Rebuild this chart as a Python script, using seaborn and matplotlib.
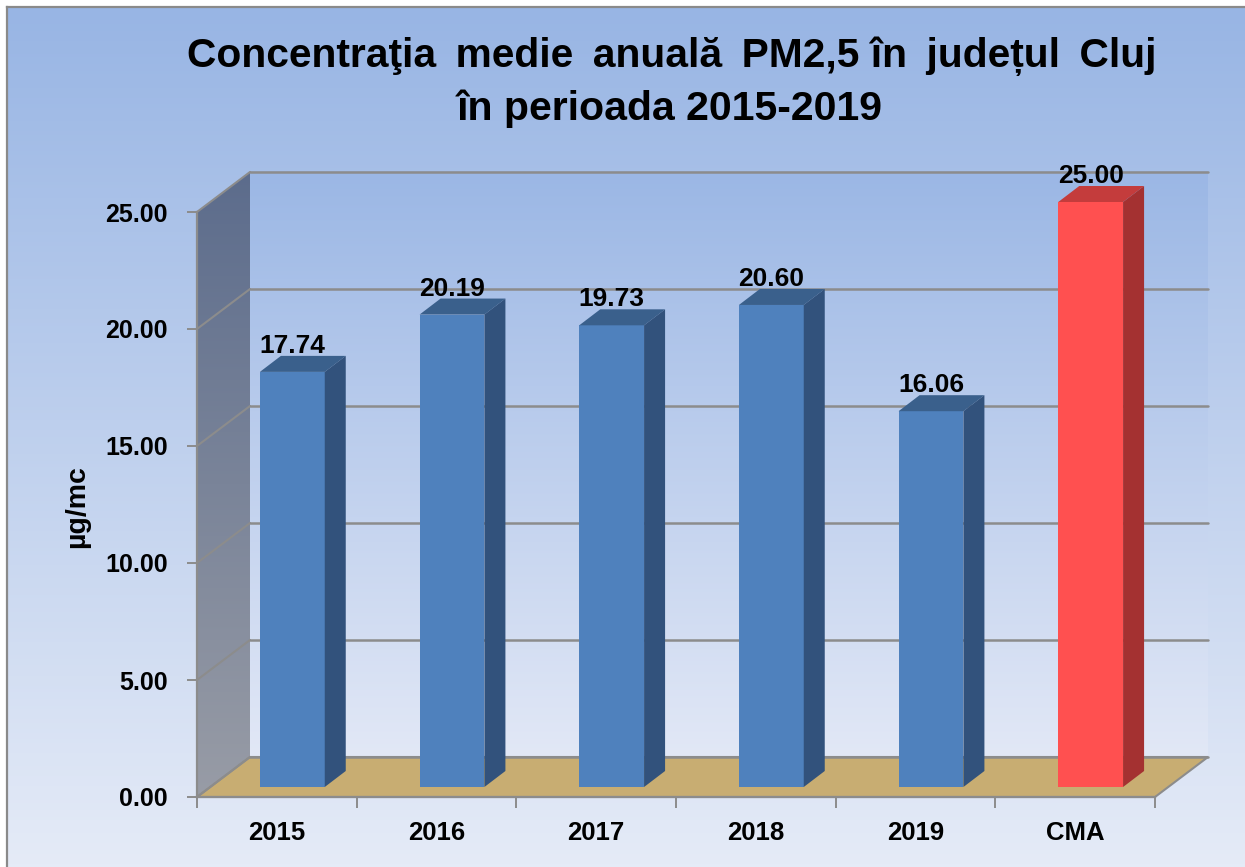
import numpy as np
import matplotlib
matplotlib.use("Agg")
import matplotlib.pyplot as plt
import matplotlib.transforms as mtransforms
from matplotlib.patches import Polygon
import seaborn as sns

# data
categories = ["2015", "2016", "2017", "2018", "2019", "CMA"]
values = [17.74, 20.19, 19.73, 20.60, 16.06, 25.00]
value_labels = ["17.74", "20.19", "19.73", "20.60", "16.06", "25.00"]
y_ticks = [0, 5, 10, 15, 20, 25]
y_tick_labels = ["0.00", "5.00", "10.00", "15.00", "20.00", "25.00"]
gap = " \u2009"  # the original title has slightly wider word gaps
title_lines = [gap.join(["Concentraţia", "medie", "anuală", "PM2,5 în", "județul", "Cluj"]),
               "în perioada 2015-2019"]

front_colors = ["#4f81bd"] * 5 + ["#ff5050"]
top_colors = ["#3a608c"] * 5 + ["#c43c3c"]
side_colors = ["#32527c"] * 5 + ["#a43131"]

sns.set_theme(style="white")
plt.rcParams["font.family"] = ["Liberation Sans", "DejaVu Sans"]

W, H = 1245, 867
fig = plt.figure(figsize=(W / 100, H / 100), dpi=100, facecolor="white")


def vgrad(top, bottom, n=256):
    t = np.linspace(0, 1, n)[:, None, None]
    a = np.array(top)[None, None, :] / 255.0
    b = np.array(bottom)[None, None, :] / 255.0
    return a + (b - a) * t


# background panel with its grey frame
bg = fig.add_axes([7 / W, 0, (W - 7) / W, (H - 7) / H], zorder=0)
bg.imshow(vgrad((152, 181, 228), (229, 235, 247)), extent=(0, 1, 0, 1), aspect="auto")
bg.set_xlim(0, 1)
bg.set_ylim(0, 1)
bg.set_xticks([])
bg.set_yticks([])
for s in ["right", "bottom"]:
    bg.spines[s].set_visible(False)
for s in ["left", "top"]:
    bg.spines[s].set_color("#8a8a8a")
    bg.spines[s].set_linewidth(1.6)

# main axes = front plane of the 3d box
ax = fig.add_axes([197 / W, 70 / H, 958 / W, 585 / H], zorder=2)
ax.patch.set_alpha(0)

sns.barplot(x=categories, y=values, hue=categories, palette=front_colors,
            saturation=1, width=0.406, legend=False, linewidth=0, ax=ax)
bars = list(ax.patches)

ax.set_xlim(-0.5, 5.5)
ax.set_ylim(0, 25)

# pixel -> data units for the depth offsets
sx = 958 / 6.0
sy = 585 / 25.0
bk_x, bk_y = 53 / sx, 40 / sy      # back wall
dp_x, dp_y = 21 / sx, 16 / sy      # bar depth
gray = "#8c8c8c"

# back wall
ax.imshow(vgrad((155, 183, 229), (226, 232, 246)),
          extent=(-0.5 + bk_x, 5.5 + bk_x, bk_y, 25 + bk_y),
          aspect="auto", zorder=0.1, clip_on=False)

# left side wall (gradient clipped to the slanted panel)
wall_pts = [(-0.5, 0), (-0.5, 25), (-0.5 + bk_x, 25 + bk_y), (-0.5 + bk_x, bk_y)]
wall = Polygon(wall_pts, closed=True, transform=ax.transData)
im = ax.imshow(vgrad((92, 108, 140), (152, 156, 166)),
               extent=(-0.5, -0.5 + bk_x, 0, 25 + bk_y),
               aspect="auto", zorder=0.2)
im.set_clip_box(fig.bbox)
im.set_clip_path(wall)

# floor
floor_pts = [(-0.5, 0), (5.5, 0), (5.5 + bk_x, bk_y), (-0.5 + bk_x, bk_y)]
ax.add_patch(Polygon(floor_pts, closed=True, facecolor="#c8ad72",
                     edgecolor=gray, linewidth=1.5, zorder=0.3, clip_on=False))

# gridlines on back wall + diagonals on the side wall
for v in y_ticks:
    ax.plot([-0.5 + bk_x, 5.5 + bk_x], [v + bk_y, v + bk_y], color=gray,
            linewidth=1.8, zorder=0.4, clip_on=False)
    ax.plot([-0.5, -0.5 + bk_x], [v, v + bk_y], color=gray,
            linewidth=1.5, zorder=0.4, clip_on=False)

# bars: shift to their depth position and add top + side faces
bar_trans = mtransforms.offset_copy(ax.transData, fig=fig, x=15.5, y=10, units="dots")
label_trans = mtransforms.offset_copy(ax.transData, fig=fig, x=15.5, y=29, units="dots")
for p, tc, sc, lab in zip(bars, top_colors, side_colors, value_labels):
    p.set_transform(bar_trans)
    p.set_zorder(1)
    p.set_clip_on(False)
    x0, w, h = p.get_x(), p.get_width(), p.get_height()
    top = [(x0, h), (x0 + w, h), (x0 + w + dp_x, h + dp_y), (x0 + dp_x, h + dp_y)]
    side = [(x0 + w, 0), (x0 + w + dp_x, dp_y), (x0 + w + dp_x, h + dp_y), (x0 + w, h)]
    ax.add_patch(Polygon(top, closed=True, facecolor=tc, edgecolor="none",
                         transform=bar_trans, zorder=1, clip_on=False))
    ax.add_patch(Polygon(side, closed=True, facecolor=sc, edgecolor="none",
                         transform=bar_trans, zorder=1, clip_on=False))
    ax.text(x0 + w / 2, h, lab, transform=label_trans, ha="center", va="baseline",
            fontsize=19, fontweight="bold", color="black", zorder=3)

# axes, ticks and labels
for s in ["top", "right"]:
    ax.spines[s].set_visible(False)
for s in ["left", "bottom"]:
    ax.spines[s].set_color(gray)
    ax.spines[s].set_linewidth(1.6)

ax.set_yticks(y_ticks, y_tick_labels)
ax.tick_params(axis="y", left=True, length=7.2, width=1.4, color=gray,
               pad=14, labelsize=18)
ax.set_xticks(range(len(categories)), categories)
ax.set_xticks(np.arange(-0.5, 6, 1), minor=True)
ax.tick_params(axis="x", which="major", bottom=True, length=0, pad=17, labelsize=18.5)
ax.tick_params(axis="x", which="minor", bottom=True, length=8, width=1.4, color=gray)
for lbl in ax.get_xticklabels() + ax.get_yticklabels():
    lbl.set_fontweight("bold")
    lbl.set_color("black")

ax.set_xlabel("")
ax.set_ylabel("µg/mc", fontsize=20.5, fontweight="bold", color="black")
ax.yaxis.set_label_coords(-0.112, 0.497)

fig.text(672 / W, 1 - 67 / H, title_lines[0], ha="center", va="baseline",
         fontsize=29.3, fontweight="bold", color="black")
fig.text(670 / W, 1 - 120 / H, title_lines[1], ha="center", va="baseline",
         fontsize=29.5, fontweight="bold", color="black")

fig.savefig("out.png", dpi=100, facecolor=fig.get_facecolor())
